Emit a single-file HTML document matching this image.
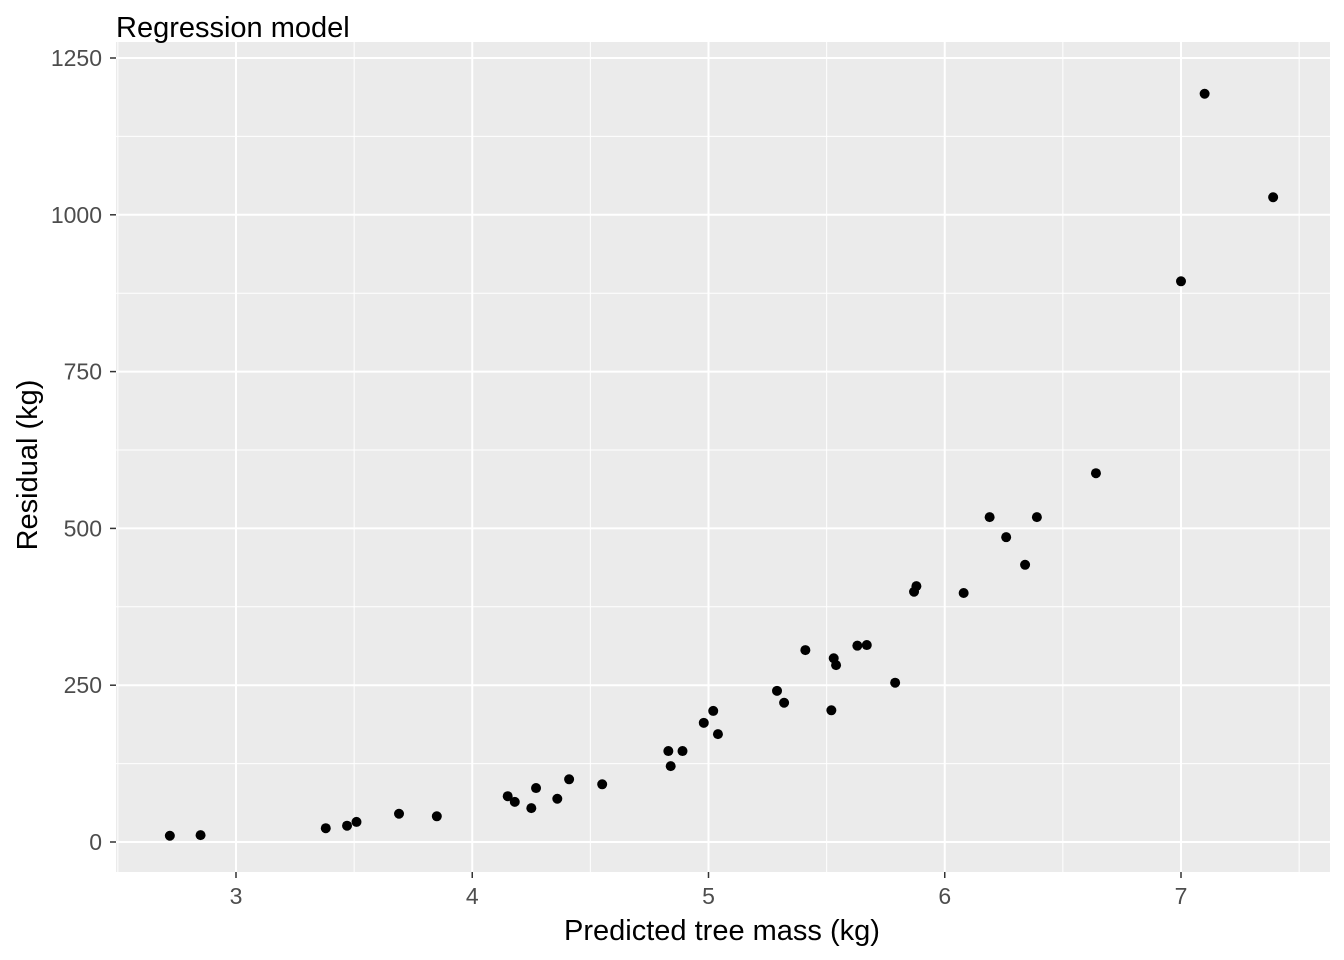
<!DOCTYPE html>
<html><head><meta charset="utf-8"><style>
html,body{margin:0;padding:0;background:#fff;}
svg{display:block;font-family:"Liberation Sans",Arial,sans-serif;}
</style></head><body>
<svg id="chart" width="1344" height="960"></svg>
<script>
const xs=[2.72,2.85,3.38,3.47,3.51,3.69,3.85,4.15,4.18,4.25,4.27,4.36,4.41,4.55,4.83,4.84,4.89,4.98,5.02,5.04,5.29,5.32,5.41,5.52,5.53,5.54,5.63,5.67,5.79,5.87,5.88,6.08,6.19,6.26,6.34,6.39,6.64,7.00,7.10,7.39];
const ys=[10,11,22,26,32,45,41,73,64,54,86,69,100,92,145,121,145,190,209,172,241,222,306,210,293,282,313,314,254,399,408,397,518,486,442,518,588,894,1193,1028];
const xTicks=[3,4,5,6,7];
const yTicks=[0,250,500,750,1000,1250];
const NS="http://www.w3.org/2000/svg";
const svg=document.getElementById('chart');
const L=116,R=1330,T=42,B=872;
const sx=v=>236+(v-3)*236.25;
const sy=v=>842-v*0.6272;
function mk(tag,attrs,parent){const e=document.createElementNS(NS,tag);for(const k in attrs)e.setAttribute(k,attrs[k]);(parent||svg).appendChild(e);return e;}
const panel=mk('rect',{x:L,y:T,width:R-L,height:B-T,fill:'#ebebeb'});


for(let i=0;i<xTicks.length+1;i++){const v=xTicks[0]-0.5+i;const px=sx(v);if(px>L&&px<R){const g=mk('line',{x1:px,x2:px,y1:T,y2:B,stroke:'#fff','stroke-width':1});}}
for(let i=0;i<yTicks.length+1;i++){const v=yTicks[0]-125+i*250;const py=sy(v);if(py>T&&py<B){const g=mk('line',{x1:L,x2:R,y1:py,y2:py,stroke:'#fff','stroke-width':1});}}
xTicks.forEach(v=>{const px=sx(v);
const g=mk('line',{x1:px,x2:px,y1:T,y2:B,stroke:'#fff','stroke-width':2});
const t=mk('line',{x1:px,x2:px,y1:B,y2:B+6,stroke:'#333','stroke-width':1.5});
const l=mk('text',{x:px,y:B+32,'text-anchor':'middle','font-size':23,fill:'#4d4d4d'});l.textContent=v;});
yTicks.forEach(v=>{const py=sy(v);
const g=mk('line',{x1:L,x2:R,y1:py,y2:py,stroke:'#fff','stroke-width':2});
const t=mk('line',{x1:L-6,x2:L,y1:py,y2:py,stroke:'#333','stroke-width':1.5});
const l=mk('text',{x:L-14,y:py+8,'text-anchor':'end','font-size':23,fill:'#4d4d4d'});l.textContent=v;});
xs.forEach((v,i)=>{const c=mk('circle',{cx:sx(v),cy:sy(ys[i]),r:5,fill:'#000'});});
const title=mk('text',{x:116,y:37,'font-size':29,fill:'#000'});title.textContent='Regression model';
const xt=mk('text',{x:722,y:940,'text-anchor':'middle','font-size':29,fill:'#000'});xt.textContent='Predicted tree mass (kg)';
const yt=mk('text',{x:0,y:0,'text-anchor':'middle','font-size':29,fill:'#000',transform:'translate(37,465) rotate(-90)'});yt.textContent='Residual (kg)';
</script>
</body></html>
